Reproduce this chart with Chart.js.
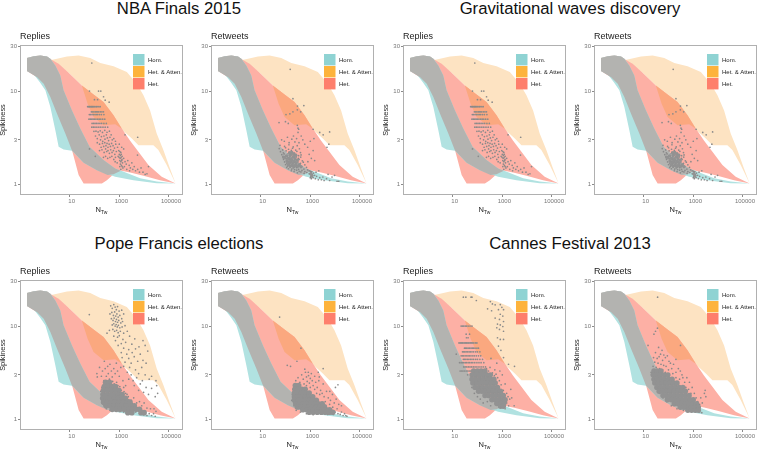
<!DOCTYPE html>
<html>
<head>
<meta charset="utf-8">
<script src="https://cdn.jsdelivr.net/npm/chart.js@4"></script>
<style>
  html, body { margin: 0; padding: 0; background: #fff; overflow: hidden; }
  body { position: relative; width: 758px; height: 450px; font-family: "Liberation Sans", Arial, sans-serif; }
  canvas { position: absolute; }
  .event { position: absolute; width: 340px; text-align: center; font-size: 16.7px; line-height: 20px; color: #111; white-space: nowrap; }
</style>
</head>
<body>
<div class="event" style="left:9px;top:-1px">NBA Finals 2015</div>
<div class="event" style="left:400px;top:-1px">Gravitational waves discovery</div>
<div class="event" style="left:9px;top:234px">Pope Francis elections</div>
<div class="event" style="left:400px;top:234px">Cannes Festival 2013</div>
<script>
// model regions, [N_Tw, spikiness], upper and lower edge of each band
const hetUpper = [[0.19,22.7],[0.36,23.7],[0.66,24.1],[1.23,23.5],[1.95,21.6],[3.6,19.6],[9.1,15.7],[31,11.5],[92,9.2],[232,7.64],[585,5.5],[1265,3.97],[2730,2.93],[5900,2.23],[14900,1.61],[51000,1.21],[186000,1.02]];
const hetLower = [[0.19,16.4],[0.49,14.1],[0.9,12],[1.67,8.64],[3.1,5.73],[6.7,3.5],[12.4,2.33],[23,1.26],[36.5,1.02],[199,1.02],[316,1.11],[585,1.28],[1085,1.41],[2730,1.34],[9400,1.24],[43700,1.11],[186000,1.02]];
const homUpper = [[0.19,22.7],[0.36,23.7],[0.66,24.1],[1.23,23.5],[1.67,22.2],[2.65,18.8],[4.2,14.7],[5.7,10.2],[12.4,6.2],[26.8,3.97],[63.5,2.53],[232,1.82],[682,1.48],[1265,1.39],[6900,1.16],[32100,1.07],[186000,1.02]];
const homLower = [[0.19,16.4],[0.36,15.1],[0.62,12.5],[1.05,10.2],[1.67,6.76],[2.65,3.8],[3.6,2.53],[5.7,2.37],[12.4,2.29],[36.5,1.7],[125,1.42],[682,1.21],[3720,1.11],[32100,1.03],[186000,1.02]];
const attUpper = [[1.44,21.3],[3.1,22.2],[7.8,23.5],[23,24.1],[67.6,22.7],[171,20],[585,18.5],[2010,16],[5060,12],[9400,9],[17400,6.2],[32100,3.5],[59600,2.33],[110000,1.48],[186000,1.02]];
const attLower = [[1.44,20.4],[1.95,17.6],[3.1,17.3],[4.2,18.5],[9.1,15.7],[31,11.5],[52.9,7.33],[92,5.28],[232,4.3],[682,4.41],[1265,3.87],[3190,3.1],[5900,2.63],[23600,2.63],[37500,2.33],[81000,1.61],[186000,1.02]];
// overlaps keep their own flat colour
const greyUpper = [[0.19,22.7],[0.36,23.7],[0.66,24.1],[1.23,23.5],[1.67,22.2],[2.65,18.8],[4.2,14.7],[5.7,10.2],[12.4,6.2],[26.8,3.97],[63.5,2.53],[232,1.82],[682,1.48],[1150,1.4]];
const greyLower = [[0.19,16.4],[0.49,14.1],[0.9,12],[1.67,8.64],[3.1,5.73],[6.7,3.5],[12.4,2.3],[36.5,1.7],[125,1.42],[336,1.26],[585,1.28],[1150,1.4]];
const darkUpper = [[31,11.5],[92,9.2],[232,7.64],[585,5.5],[1265,3.95]];
const darkLower = [[31,11.5],[52.9,7.33],[92,5.28],[232,4.3],[682,4.41],[1265,3.95]];

// tweets, NBA and gravitational panels show the same clouds
const nbaReplies = [[78,20],[63,10],[146,10],[180,10],[232,8.7],[270,8],[390,7.6],[100,8.1],[133,8.1],[1700,3.4],[5500,3.2],[5400,2.06],[63,2.4],[108,2],[15000,1.55],
[53,6.8],[58,6.8],[62,6.8],[66,6.8],[72,6.8],[76,6.8],[82,6.8],[88,6.8],[96,6.8],[105,6.8],[118,6.8],[128,6.8],[150,6.8],[170,6.8],
[75,6],[85,6],[95,6],[108,6],[120,6],[135,6],[150,6],[175,6],[200,6],[230,6],
[62,5.6],[70,5.6],[80,5.6],[92,5.6],[105,5.6],[118,5.6],[135,5.6],[160,5.6],[190,5.6],[240,5.6],
[60,5],[68,5],[78,5],[88,5],[100,5],[115,5],[135,5],[155,5],[180,5],[215,5],[260,5],
[80,4.5],[92,4.5],[105,4.5],[120,4.5],[140,4.5],[165,4.5],[195,4.5],[240,4.5],[300,4.5],
[78,4.1],[90,4.1],[105,4.1],[125,4.1],[150,4.1],[180,4.1],[220,4.1],[270,4.1],[340,4.1],
[95,3.7],[115,3.72],[140,3.65],[170,3.75],[210,3.6],[260,3.8],[320,3.62],[400,3.72],
[110,3.3],[130,3.1],[155,3.4],[175,3],[190,3.25],[215,2.9],[240,3.3],[265,3.05],[300,3.4],[330,3.15],[370,2.95],[420,3.2],[470,3.4],[520,3],[600,3.1],[700,2.9],
[130,2.8],[160,2.7],[185,2.5],[210,2.75],[235,2.55],[260,2.8],[290,2.6],[320,2.75],[350,2.5],[390,2.7],[440,2.55],[490,2.75],[560,2.6],[640,2.45],[720,2.7],[850,2.5],
[160,2.3],[200,2.35],[245,2.2],[280,2.4],[310,2.25],[350,2.3],[400,2.15],[450,2.35],[510,2.2],[580,2.3],[660,2.1],[760,2.25],[900,2],
[230,1.95],[280,2],[340,1.9],[420,1.95],[500,2],[600,1.85],[700,1.95],[680,1.75],[820,1.7],[1000,2.7],[1250,2.5],[1500,2.4],
[950,2.3],[1050,2.25],[1150,2.2],[1000,2.1],[1100,2.05],[1200,2.1],[1300,2],[980,1.95],[1080,1.9],[1180,1.95],[1280,1.85],[1050,1.8],[1150,1.75],[1250,1.8],[1350,1.7],[1100,1.65],[1220,1.6],[1050,1.55],[1300,1.55],[1150,1.45],
[1500,1.9],[1700,1.75],[1900,1.65],[2200,1.8],[2500,1.6],[2800,1.5],[3200,1.7],[3500,1.45],[4000,1.55],[4500,1.4],[5500,1.45],[6500,1.35],[7500,1.5],[9000,1.35],[11000,1.28],[13000,1.3],[2000,1.45],[2600,1.4],[1600,1.55],[1400,1.5]];

const nbaRetweets = [[155,17.1],[200,8.3],[305,6.9],[550,7],[300,6.3],[200,6],[150,5.7],[105,5.6],[410,6],[55,4.6],[100,4.7],[130,4.5],[300,4.3],[320,4],[340,3.9],[1300,3.9],[2400,3.6],[3300,3.4],[6000,3.65],[5600,2.7],[4700,2.5],
[70,3],[90,2.9],[120,3.2],[140,2.8],[180,3.05],[210,3.3],[240,2.85],[280,3.1],[320,3.6],[350,2.8],[430,3.3],[500,3],[600,2.7],[780,2.5],[1000,2.9],[1400,3.1],[1300,2.3],[900,2.1],[1100,1.9],[1500,1.8],[800,1.75],
[60,2.62],[92,2.55],[138,2.66],[205,2.52],[298,2.6],[56,2.42],[77,2.34],[101,2.47],[133,2.38],[192,2.44],[258,2.33],[365,2.41],
[63,2.24],[82,2.18],[106,2.29],[137,2.2],[172,2.31],[224,2.16],[288,2.26],[402,2.19],
[71,2.08],[88,2.12],[104,2.02],[127,2.13],[152,2.05],[183,2.1],[221,2.01],[268,2.09],[338,2.03],[424,2.07],
[78,1.98],[96,1.92],[113,1.99],[136,1.9],[151,1.97],[172,1.91],[197,1.99],[232,1.93],[272,1.97],[331,1.9],[412,1.96],
[84,1.85],[107,1.88],[122,1.8],[141,1.86],[162,1.79],[182,1.84],[203,1.78],[238,1.86],[283,1.8],[352,1.85],[478,1.79],
[92,1.74],[113,1.69],[128,1.75],[152,1.68],[168,1.73],[193,1.66],[218,1.72],[262,1.65],[318,1.74],[402,1.68],[523,1.73],
[101,1.63],[121,1.57],[142,1.64],[158,1.56],[183,1.62],[207,1.55],[243,1.63],[288,1.56],[362,1.6],[448,1.54],[603,1.62],
[112,1.52],[132,1.47],[153,1.53],[178,1.46],[204,1.5],[232,1.44],[284,1.51],[338,1.45],[418,1.52],[553,1.46],[702,1.52],
[172,1.4],[222,1.37],[282,1.42],[358,1.38],[462,1.41],[604,1.37],[783,1.43],[1003,1.38],
[302,1.33],[418,1.36],[563,1.31],[722,1.34],[898,1.3],[1153,1.37],
[900,1.4],[1000,1.3],[1100,1.35],[1200,1.28],[1050,1.22],[1150,1.2],[1250,1.25],[1350,1.32],[1000,1.18],[1100,1.15],[1300,1.18],[1500,1.25],
[1600,1.15],[1800,1.22],[2100,1.12],[2400,1.18],[2800,1.12],[3200,1.2],[3600,1.1],[4500,1.15],[5200,1.28],[6000,1.1],[7500,1.2],[9500,1.25],[12000,1.08],[14000,1.08],[1700,1.35],[2200,1.4]];
const nbaRetweetsCore = [[85,1.95],[110,2.02],[130,1.9],[155,2.05],[175,1.85],[205,1.98],[240,1.88],[115,1.78],[140,1.72],[165,1.8],[195,1.7],[230,1.76],[270,1.7],[300,1.82],[130,1.62],[160,1.58],[190,1.6],[225,1.55],[265,1.6],[310,1.56],[360,1.62],[420,1.55],[180,2.2],[150,2.18],[220,2.12],[260,2.05],[1050,1.3],[1150,1.24]];

const popeReplies = [[450,16.5],[520,15.5],[600,17],[680,16],[760,15],[850,16.2],[980,14.5],[1250,14.8],[1500,13.5],[420,13.5],[500,14],[580,13],[650,14.2],[720,12.8],[800,13.5],[900,12.5],[1050,13],[1250,12],[480,12],[560,11.5],[620,12.2],[700,11.2],[770,11.8],[850,11],[950,11.5],[1150,10.8],[1350,11.2],[520,10.3],[600,10.6],[680,10],[750,10.4],[830,9.8],[920,10.2],[1050,9.6],[1300,9.8],[1700,10.1],[400,9],[550,9.2],[650,8.8],[780,9],[900,8.5],[1100,8.8],[1500,8.4],[2100,8.8],[320,8.4],[600,7.8],[850,7.6],[1000,7.9],[1400,7.2],[2600,7.8],[4200,7.3],[9000,7],[700,7],[1200,6.5],[1800,6.7],[3200,6.4],[6200,6],[900,6.2],[1500,5.8],[2400,5.6],[4500,5.7],[11000,6.2],[1200,5.2],[2000,5],[3300,5.2],[7000,5],[14000,5.4],[1300,4.6],[2400,4.5],[4000,4.7],[9000,4.3],[1700,4.1],[3000,4],[5500,4.2],[12000,4],[1500,3.7],[2600,3.6],[4500,3.4],[8000,3.6],[2100,3.2],[3000,3],[6000,3.1],[11000,3],[20000,2.9],[2400,2.7],[3600,2.6],[5000,2.8],[8500,2.6],[16000,2.7],[30000,2.6],[4000,2.3],[7000,2.4],[12000,2.2],[20000,2.15],[32000,2.3],[6000,2.05],[9500,1.95],[15000,1.85],[28000,1.75],[35000,1.9],[62,13.3],
[125,3.1],[130,2.85],[160,3.6],[190,2.9],[210,3.3],[250,4.2],[270,3.5],[300,2.9],[340,3.7],[360,3.1],[400,2.7],[420,3.9],[480,3.3],[520,2.85],[600,3.5],[680,3.1],[760,4],[850,3.3],[1000,2.9],[1150,3.6],
[190,1.7],[180,2],[200,2.2],[240,2.6],[260,2.45],[200,1.5],[240,1.4],[300,1.3],[420,1.25],[700,1.25],[1000,1.22],[1500,1.2],[2500,1.25],[3200,1.18],[4500,1.2],[5500,1.3],[6500,1.15],[8000,1.25],[9500,1.12],[11000,1.2],[13000,1.1],[16000,1.15],[20000,1.1],[24000,1.15],[28000,1.08],[30000,1.22],[1800,1.9],[2300,1.75],[3000,1.6],[3800,1.7],[5000,1.5],[6500,1.55],[8000,1.4],[10000,1.5],[13000,1.32],[18000,1.3],[25000,1.3],[1500,2.2],[1800,2.3],[1400,2.6],
[540,2.55],[620,2.4],[780,2.5],[880,2.3],[1050,2.25],[1200,2.05],[1550,1.98],[2050,1.85],[2400,1.62],[3300,1.48],[4500,1.42]];
const popeRepliesCore = [[280,2.5],[400,2.5],
[250,2.25],[360,2.25],[510,2.25],[700,2.25],
[230,2.05],[330,2.05],[480,2.05],[680,2.05],[950,2.05],
[220,1.85],[320,1.85],[460,1.85],[660,1.85],[950,1.85],[1300,1.85],
[215,1.68],[310,1.68],[450,1.68],[650,1.68],[940,1.68],[1300,1.68],[1750,1.68],
[235,1.53],[340,1.53],[490,1.53],[700,1.53],[1000,1.53],[1450,1.53],[2100,1.53],[2700,1.53],
[300,1.4],[430,1.4],[620,1.4],[900,1.4],[1300,1.4],[1900,1.4],[2800,1.4],[4000,1.4],
[520,1.28],[750,1.28],[1080,1.28],[1550,1.28],[2250,1.28],[3300,1.28],[4800,1.28],[6500,1.28],
[2200,1.18],[3200,1.18],[7500,1.18],[10000,1.18]];

const popeRetweets = [[58,12.5],[420,5.8],[290,4.2],[118,3.8],[160,3.7],[3300,3.5],[2100,3.2],[2300,2.85],[600,3.45],[830,3.2],[3300,2.4],[13000,2.35],[10300,2.2],[6100,2],
[260,2.6],[320,2.8],[380,2.5],[450,3],[520,2.7],[560,2.4],[640,3.2],[700,2.85],[750,2.55],[850,2.95],[920,2.45],[1000,2.75],[1100,3.1],[1200,2.6],[1300,2.3],[1500,2.9],[1650,2.5],[1900,2.2],[2200,2.6],[2600,2.05],[1000,2.2],[700,2.3],[1500,2.1],
[3000,1.9],[3600,1.75],[4500,2],[5300,1.7],[6500,1.6],[7800,1.85],[9200,1.5],[11000,1.65],[14000,1.45],[18000,1.4],[4000,1.55],[6000,1.45],[2400,1.85],[1800,1.9],[8000,1.35],[12000,1.3],
[10000,1.2],[13000,1.15],[16000,1.13],[21000,1.1],[27000,1.1],[24000,1.15],[30000,1.08],[18000,1.2],[8500,1.13],[5000,1.13],[180,1.6],[190,1.85],[200,2.1],[220,1.4],[270,1.25],[400,1.2],[700,1.15],[1300,1.12]];
const popeRetweetsCore = [[250,2.3],[340,2.3],
[240,2.1],[330,2.1],[450,2.1],[620,2.1],
[230,1.92],[320,1.92],[450,1.92],[640,1.92],[900,1.92],
[230,1.75],[320,1.75],[450,1.75],[640,1.75],[900,1.75],[1250,1.75],
[230,1.6],[320,1.6],[450,1.6],[640,1.6],[900,1.6],[1250,1.6],[1750,1.6],
[260,1.47],[370,1.47],[520,1.47],[740,1.47],[1050,1.47],[1500,1.47],[2100,1.47],[3000,1.47],
[300,1.36],[430,1.36],[620,1.36],[880,1.36],[1250,1.36],[1800,1.36],[2600,1.36],[3700,1.36],
[500,1.27],[720,1.27],[1000,1.27],[1450,1.27],[2100,1.27],[3000,1.27],[4300,1.27],[6000,1.27],
[900,1.19],[1300,1.19],[1900,1.19],[2800,1.19],[4000,1.19],[5800,1.19],[8000,1.19]];

const cannesReplies = [[22,10],[25,10],[28,10],[32,10],[36,10],[42,10],[50,10],[60,10],[35,8.2],[48,8.2],[36,7.5],[42,7.5],
[18,6.6],[20,6.6],[22,6.6],[24,6.6],[26,6.6],[29,6.6],[32,6.6],[35,6.6],[38,6.6],[42,6.6],[46,6.6],[52,6.6],[58,6.6],[65,6.6],[72,6.6],[85,6.6],[95,6.6],
[30,5.8],[33,5.8],[37,5.8],[42,5.8],[48,5.8],[55,5.8],[62,5.8],[70,5.8],[80,5.8],[95,5.8],[110,5.8],
[25,5.3],[28,5.3],[31,5.3],[35,5.3],[40,5.3],[46,5.3],[52,5.3],[60,5.3],[70,5.3],[85,5.3],[100,5.3],[125,5.3],
[22,4.8],[25,4.8],[28,4.8],[32,4.8],[37,4.8],[42,4.8],[48,4.8],[55,4.8],[65,4.8],[75,4.8],[90,4.8],[110,4.8],[135,4.8],
[27,4.4],[30,4.4],[34,4.4],[39,4.4],[45,4.4],[52,4.4],[60,4.4],[70,4.4],[85,4.4],[100,4.4],[125,4.4],[160,4.4],
[19,4.05],[22,4.05],[25,4.05],[28,4.05],[32,4.05],[36,4.05],[42,4.05],[48,4.05],[56,4.05],[65,4.05],[78,4.05],[95,4.05],[115,4.05],[140,4.05],[180,4.05],
[28,3.65],[32,3.65],[37,3.65],[43,3.65],[50,3.65],[58,3.65],[68,3.65],[80,3.65],[95,3.65],[115,3.65],[140,3.65],[170,3.65],[210,3.65],
[20,3.3],[23,3.3],[26,3.3],[30,3.3],[35,3.3],[40,3.3],[46,3.3],[52,3.3],[60,3.3],
[27,20.4],[34,20.4],[55,20.4],[60,20.4],[90,18.8],
[330,18.3],[400,17.3],[515,16.9],[830,17],[960,15.9],[255,15.3],[370,14.6],[700,15],[1120,15],[830,13.4],[1050,12.8],[515,12.2],[770,11.8],[1120,11.2],[640,10.5],[830,10.3],[1050,9.9],[600,9.6],[770,9.2],[1120,8.8],[640,7.5],[830,7.2],[1120,7.2],[700,6.1],[880,5.5],[1120,4.6],[1780,3.9],[3100,3.7],
[1500,1.9],[1700,1.75],[2000,1.65],[2400,1.7],[3000,1.4],[2200,2.1],[1300,2.4],[1000,3],[800,3.3],[500,3.4],[600,4],[350,4.5],[1500,1.5],[1300,1.3],[1800,1.4],[60,2.2],[75,1.9],[100,1.75],[130,1.65],[170,1.5],[250,1.55],[340,1.4],[40,3],[14,5],
[230,3.5],[280,3.3],[320,3.6],[400,3.15],[480,2.95],[560,3.05],[650,2.8],[760,2.6],[900,2.35],[1100,2.05]];
const cannesRepliesCore = [[70,3.3],[100,3.3],[140,3.3],[200,3.3],
[60,3],[85,3],[120,3],[170,3],[240,3],[330,3],
[60,2.7],[85,2.7],[120,2.7],[170,2.7],[240,2.7],[330,2.7],[460,2.7],
[65,2.45],[95,2.45],[130,2.45],[190,2.45],[260,2.45],[370,2.45],[520,2.45],
[80,2.2],[115,2.2],[160,2.2],[230,2.2],[320,2.2],[450,2.2],[640,2.2],
[110,2],[150,2],[215,2],[300,2],[430,2],[600,2],[850,2],
[200,1.8],[280,1.8],[400,1.8],[560,1.8],[800,1.8],[1100,1.8],
[380,1.62],[530,1.62],[750,1.62],[1050,1.62],[1300,1.62],
[600,1.48],[850,1.48],[1150,1.48],[850,1.38],[1100,1.38]];

const cannesRetweets = [[36.5,20.4],[36,9.5],[30,8.8],[26,8.2],[15,6.2],[305,6.2],
[40,5.9],[55,5.5],[30,5.2],[48,5],[65,4.9],[25,4.6],[35,4.5],[42,4.7],[58,4.3],[75,4.6],[90,4.8],[28,4.1],[38,4],[50,3.9],[64,3.8],[80,3.7],[105,4.2],[120,4],[24,3.7],[32,3.6],[44,3.5],[58,3.4],[75,3.2],[100,3.4],[135,3.5],[160,3.9],[200,4.4],
[150,3.1],[200,3.2],[250,3.5],[300,3.3],[350,3],[200,2.8],[280,2.7],[380,2.8],[450,2.5],[550,2.8],[700,2.5],[500,2.2],[650,2.1],[900,2.2],[800,1.9],[1100,1.9],[1300,1.7],[1500,1.55],[1800,1.45],[2300,1.5],[2800,1.9],[3200,1.75],[2000,1.7],[3000,2.05],[20,3.2],[30,2.9],[45,1.9],[60,1.7],[85,1.55],[130,1.4],[220,1.3],[400,1.25],[1800,1.2],[2200,1.18]];
const cannesRetweetsCore = [[26,3.3],[36,3.3],[50,3.3],
[24,3],[34,3],[48,3],[68,3],[95,3],
[26,2.7],[36,2.7],[50,2.7],[70,2.7],[100,2.7],[140,2.7],
[28,2.45],[40,2.45],[56,2.45],[80,2.45],[112,2.45],[160,2.45],[220,2.45],
[34,2.2],[48,2.2],[68,2.2],[95,2.2],[135,2.2],[190,2.2],[270,2.2],[380,2.2],
[42,2],[60,2],[85,2],[120,2],[170,2],[240,2],[340,2],[480,2],
[60,1.8],[85,1.8],[120,1.8],[170,1.8],[240,1.8],[340,1.8],[480,1.8],[680,1.8],
[90,1.62],[130,1.62],[180,1.62],[260,1.62],[370,1.62],[520,1.62],[740,1.62],[1000,1.62],
[170,1.47],[240,1.47],[340,1.47],[480,1.47],[680,1.47],[950,1.47],[1350,1.47],
[300,1.35],[420,1.35],[600,1.35],[850,1.35],[1200,1.35],[1600,1.35],
[600,1.25],[850,1.25],[1200,1.25],[1600,1.25]];

const xTicks = [10, 1000, 100000];
const yTicks = [1, 3, 10, 30];
const legendNames = ["Hom.", "Het. & Atten.", "Het."];
const legendColors = ["#8fd3d3", "#fdb33c", "#fe7f6c"];

const xy = (list) => list.map((p) => ({ x: p[0], y: p[1] }));

// one filled band between two edges
function band(upper, lower, color) {
  const edge = { type: "line", borderWidth: 0, pointRadius: 0, tension: 0 };
  return [
    { ...edge, data: xy(upper), fill: "+1", backgroundColor: color },
    { ...edge, data: xy(lower), fill: false },
  ];
}

// frame, legend and the N_Tw label
const panelExtras = {
  id: "panelExtras",
  afterDraw(chart) {
    const { ctx, chartArea: a } = chart;
    ctx.save();
    ctx.strokeStyle = "#b0b0b0";
    ctx.lineWidth = 1;
    ctx.strokeRect(a.left + 0.5, a.top + 0.5, a.right - a.left - 1, a.bottom - a.top - 1);
    legendNames.forEach((name, i) => {
      ctx.fillStyle = legendColors[i];
      ctx.fillRect(a.left + 113, a.top + 9 + i * 12, 11.5, 11.4);
      ctx.fillStyle = "#222";
      ctx.font = '6px "Liberation Sans"';
      ctx.textBaseline = "middle";
      ctx.fillText(name, a.left + 128, a.top + 15 + i * 12);
    });
    const midX = (a.left + a.right) / 2;
    ctx.font = '7.5px "Liberation Sans"';
    ctx.textBaseline = "alphabetic";
    ctx.fillText("N", midX - 6, a.bottom + 17);
    ctx.font = '5px "Liberation Sans"';
    ctx.fillText("Tw", midX - 0.5, a.bottom + 18.5);
    ctx.restore();
  },
};

function drawPanel(left, top, name, points, core, coreRadius) {
  const canvas = document.createElement("canvas");
  canvas.width = 188;
  canvas.height = 192;
  canvas.style.left = left - 21 + "px";
  canvas.style.top = top - 16 + "px";
  document.body.appendChild(canvas);

  new Chart(canvas.getContext("2d"), {
    type: "line",
    plugins: [panelExtras],
    data: {
      datasets: [
        { data: xy(core), showLine: false, pointRadius: coreRadius, pointBorderWidth: 0, pointBackgroundColor: "#929292" },
        { data: xy(points), showLine: false, pointRadius: 0.85, pointBorderWidth: 0, pointBackgroundColor: "#8a8a8a" },
        ...band(greyUpper, greyLower, "#b3b3b0"),
        ...band(darkUpper, darkLower, "#fba87f"),
        ...band(homUpper, homLower, "#b1e2e1"),
        ...band(hetUpper, hetLower, "#fdb0a5"),
        ...band(attUpper, attLower, "#fde3c2"),
      ],
    },
    options: {
      responsive: false,
      animation: false,
      devicePixelRatio: 1,
      layout: { padding: { top: 0, right: 4, bottom: 0, left: 0 } },
      plugins: {
        legend: { display: false },
        tooltip: { enabled: false },
        title: {
          display: true,
          text: name,
          align: "start",
          fullSize: false,
          color: "#222",
          font: { family: '"Liberation Sans"', size: 9, weight: "normal" },
          padding: { top: 2.2, bottom: 3 },
        },
      },
      scales: {
        x: {
          type: "logarithmic",
          min: 0.1,
          max: 368000,
          afterFit: (s) => { s.height = 26; },
          afterBuildTicks: (s) => { s.ticks = xTicks.map((v) => ({ value: v })); },
          grid: { display: true, drawOnChartArea: false, tickLength: 2, color: "#8a8a8a" },
          border: { display: false },
          ticks: {
            autoSkip: false, maxRotation: 0, padding: 1, labelOffset: 2, color: "#777",
            font: { family: '"Liberation Sans"', size: 6 },
            callback: (v) => String(v),
          },
        },
        y: {
          type: "logarithmic",
          min: 0.769,
          max: 31.2,
          afterFit: (s) => { s.width = 21; },
          afterBuildTicks: (s) => { s.ticks = yTicks.map((v) => ({ value: v })); },
          grid: { display: true, drawOnChartArea: false, tickLength: 2, color: "#8a8a8a" },
          border: { display: false },
          title: {
            display: true, text: "Spikiness", color: "#222", padding: { top: 0, bottom: 0 },
            font: { family: '"Liberation Sans"', size: 7.4 },
          },
          ticks: {
            autoSkip: false, padding: 1, color: "#777",
            font: { family: '"Liberation Sans"', size: 6 },
            callback: (v) => String(v),
          },
        },
      },
    },
  });
}

drawPanel(20, 45, "Replies", nbaReplies, [], 0);
drawPanel(211, 45, "Retweets", nbaRetweets, nbaRetweetsCore, 1.7);
drawPanel(403, 45, "Replies", nbaReplies, [], 0);
drawPanel(594, 45, "Retweets", nbaRetweets, nbaRetweetsCore, 1.7);
drawPanel(20, 280, "Replies", popeReplies, popeRepliesCore, 2.8);
drawPanel(211, 280, "Retweets", popeRetweets, popeRetweetsCore, 2.8);
drawPanel(403, 280, "Replies", cannesReplies, cannesRepliesCore, 2.7);
drawPanel(594, 280, "Retweets", cannesRetweets, cannesRetweetsCore, 2.7);
</script>
</body>
</html>
